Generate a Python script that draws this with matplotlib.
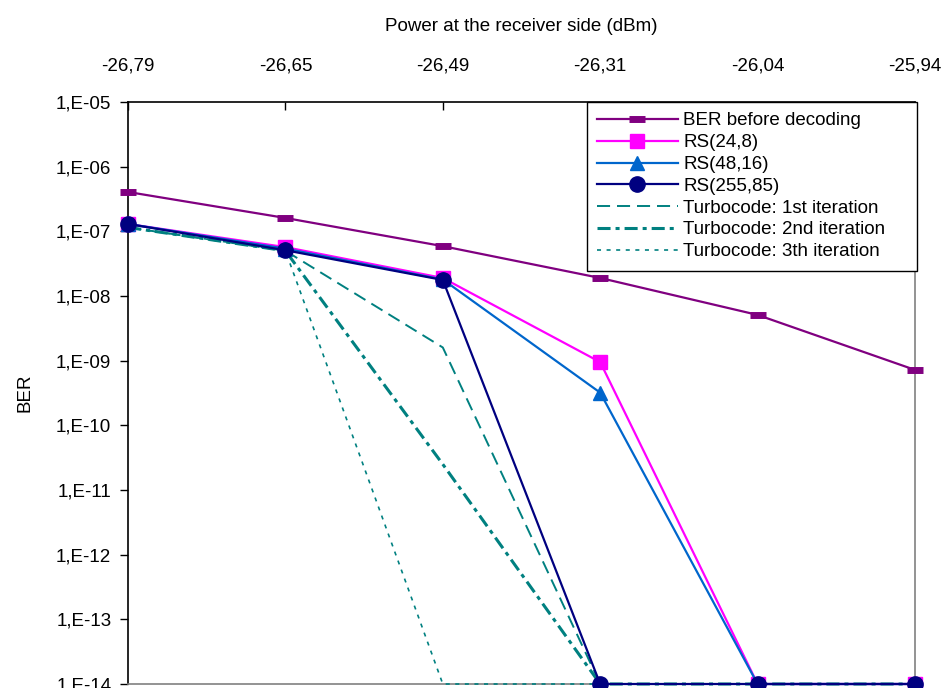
import matplotlib
matplotlib.use("Agg")
import matplotlib.pyplot as plt
from matplotlib.ticker import FixedLocator, FixedFormatter, NullLocator

plt.rcParams['font.family'] = ['Liberation Sans', 'DejaVu Sans']
plt.rcParams['lines.scale_dashes'] = False

# ---- data ----
power_labels = ["-26,79", "-26,65", "-26,49", "-26,31", "-26,04", "-25,94"]
ber_before = [4.06e-7, 1.61e-7, 5.9e-8, 1.9e-8, 5.1e-9, 7.2e-10]
rs_24_8 = [1.3e-7, 5.7e-8, 1.9e-8, 9.5e-10, 1e-14, 1e-14]
rs_48_16 = [1.3e-7, 5.4e-8, 1.8e-8, 3.2e-10, 1e-14, 1e-14]
rs_255_85 = [1.3e-7, 5.1e-8, 1.77e-8, 1e-14, 1e-14, 1e-14]
turbo_1 = [1.15e-7, 5.0e-8, 1.6e-9, 1e-14, 1e-14, 1e-14]
turbo_2 = [1.15e-7, 5.0e-8, 2.5e-11, 1e-14, 1e-14, 1e-14]
turbo_3 = [1.15e-7, 5.0e-8, 1e-14, 1e-14, 1e-14, 1e-14]
y_tick_values = [1e-5, 1e-6, 1e-7, 1e-8, 1e-9, 1e-10, 1e-11, 1e-12, 1e-13, 1e-14]
y_tick_labels = ["1,E-05", "1,E-06", "1,E-07", "1,E-08", "1,E-09", "1,E-10",
                 "1,E-11", "1,E-12", "1,E-13", "1,E-14"]

x = list(range(len(power_labels)))
FS = 13.5

fig = plt.figure(figsize=(9.48, 6.88), dpi=100)
ax = fig.add_axes([128/948, 1-684/688, (915-128)/948, (684-102)/688])

ax.plot(x, ber_before, color="#800080", lw=1.6, marker="_", ms=11, mew=5,
        label="BER before decoding", clip_on=False, zorder=3)
ax.plot(x, rs_24_8, color="#FF00FF", lw=1.6, marker="s", ms=10, mec="#FF00FF",
        label="RS(24,8)", clip_on=False, zorder=3)
ax.plot(x, rs_48_16, color="#0066CC", lw=1.6, marker="^", ms=10,
        label="RS(48,16)", clip_on=False, zorder=3)
ax.plot(x, rs_255_85, color="#000080", lw=1.6, marker="o", ms=11,
        label="RS(255,85)", clip_on=False, zorder=5)
ax.plot(x, turbo_1, color="#008080", lw=1.4, dashes=(9.4, 5),
        label="Turbocode: 1st iteration", clip_on=False, zorder=4)
ax.plot(x, turbo_2, color="#008080", lw=2.2, dashes=(9.4, 3.6, 2.9, 3.6),
        label="Turbocode: 2nd iteration", clip_on=False, zorder=4)
ax.plot(x, turbo_3, color="#008080", lw=1.2, dashes=(2.9, 4.0),
        label="Turbocode: 3th iteration", clip_on=False, zorder=4)

ax.set_yscale("log")
ax.set_ylim(1e-14, 1e-5)
ax.set_xlim(0, 5)
ax.yaxis.set_major_locator(FixedLocator(y_tick_values))
ax.yaxis.set_major_formatter(FixedFormatter(y_tick_labels))
ax.yaxis.set_minor_locator(NullLocator())
ax.tick_params(axis="y", direction="out", length=6, width=1, labelsize=FS, pad=6)

ax.xaxis.tick_top()
ax.xaxis.set_label_position("top")
ax.set_xticks(x)
ax.set_xticklabels(power_labels)
ax.tick_params(axis="x", direction="in", length=6, width=1, labelsize=FS, pad=20,
               top=True, bottom=False)

ax.set_xlabel("Power at the receiver side (dBm)", fontsize=FS, labelpad=19)
ax.set_ylabel("BER", fontsize=FS, labelpad=16)

for s in ["left", "top"]:
    ax.spines[s].set_color("black")
    ax.spines[s].set_linewidth(1.2)
for s in ["right", "bottom"]:
    ax.spines[s].set_color("#808080")
    ax.spines[s].set_linewidth(1.2)

leg = ax.legend(loc="upper left", bbox_to_anchor=(0.583, 0.0, 0.419, 1.0),
                mode="expand", fontsize=FS, frameon=True, fancybox=False,
                framealpha=1, edgecolor="black", borderaxespad=0,
                handlelength=4.3, handletextpad=0.3, labelspacing=0.25,
                borderpad=0.55)
leg.get_frame().set_linewidth(1.0)
leg.set_zorder(10)

fig.savefig("out.png", dpi=100)
